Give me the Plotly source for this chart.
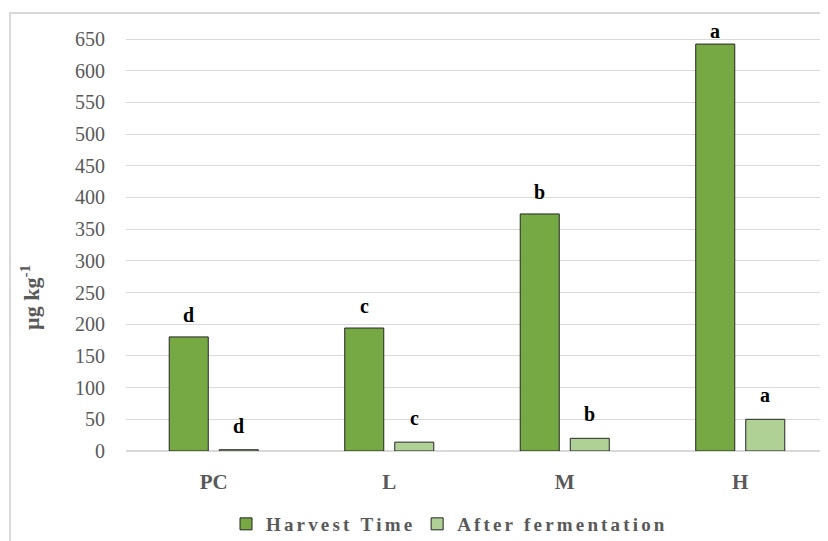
import plotly.graph_objects as go

categories = ["PC", "L", "M", "H"]
harvest = [180, 194, 374, 642]
after = [2, 14, 20, 50]
harvest_letters = ["d", "c", "b", "a"]
after_letters = ["d", "c", "b", "a"]
yticks = list(range(0, 651, 50))

OFF = 8  # page body margin
W, H = 828 - OFF, 541 - OFF
# reference pixel geometry
PL, PR, PT, PB = 126, 828, 20, 451
L, T = PL - OFF, PT - OFF
R = W - (PR - OFF)
B = H - (PB - OFF)
pw = PR - PL
ph = PB - PT
ymax = 650 + (39 - PT) / (412 / 650)


def px(x):
    return (x - PL) / pw


def py(y):
    return (PB - y) / ph


serif = "Liberation Serif, Times New Roman, serif"
gray = "#595959"
thin = "\u2006"


def spaced(s):
    return thin.join(list(s))


fig = go.Figure()
fig.add_trace(go.Bar(name="<b>%s</b>" % spaced("Harvest Time"), x=categories, y=harvest,
                     marker=dict(color="#76A843", line=dict(color="#262626", width=1))))
fig.add_trace(go.Bar(name="<b>%s</b>" % spaced("After fermentation"), x=categories, y=after,
                     marker=dict(color="#AFD196", line=dict(color="#262626", width=1))))

ann = []
for i, c in enumerate(categories):
    ann.append(dict(x=c, y=harvest[i], xref="x", yref="y", text="<b>%s</b>" % harvest_letters[i],
                    showarrow=False, xshift=-25, yanchor="bottom",
                    yshift=9 if harvest[i] < 600 else 0,
                    font=dict(family=serif, size=20, color="#000")))
    ann.append(dict(x=c, y=after[i], xref="x", yref="y", text="<b>%s</b>" % after_letters[i],
                    showarrow=False, xshift=25, yanchor="bottom", yshift=11,
                    font=dict(family=serif, size=20, color="#000")))
ann.append(dict(x=px(30), y=py(297), xref="paper", yref="paper",
                text="<b>µg kg<sup>-1</sup></b>", textangle=-90, showarrow=False,
                xanchor="center", yanchor="middle",
                font=dict(family=serif, size=22, color=gray)))

fig.update_layout(
    width=W, height=H,
    margin=dict(l=L, r=R, t=T, b=B, autoexpand=False),
    paper_bgcolor="white", plot_bgcolor="white",
    barmode="group", bargap=0.43, bargroupgap=0.22,
    showlegend=True,
    legend=dict(orientation="h", x=px(448), xanchor="center",
                y=py(524), yanchor="middle",
                font=dict(family=serif, size=19, color=gray),
                itemwidth=30, traceorder="normal"),
    annotations=ann,
    shapes=[dict(type="rect", xref="paper", yref="paper",
                 x0=px(10), x1=px(850), y0=py(580), y1=py(13),
                 line=dict(color="#d9d9d9", width=2), layer="below")],
)
fig.update_xaxes(showgrid=False, showline=True, linecolor="#d9d9d9", linewidth=1,
                 ticks="", tickfont=dict(family=serif, size=21, color=gray),
                 tickvals=categories, ticktext=["<b>%s</b>" % c for c in categories],
                 ticklabelstandoff=12)
fig.update_yaxes(range=[0, ymax], tickvals=yticks, showgrid=True, gridcolor="#d9d9d9",
                 gridwidth=1, zeroline=True, zerolinecolor="#d9d9d9", showline=False,
                 tickfont=dict(family=serif, size=20, color=gray), ticklabelstandoff=20)

fig.write_html("out.html")
